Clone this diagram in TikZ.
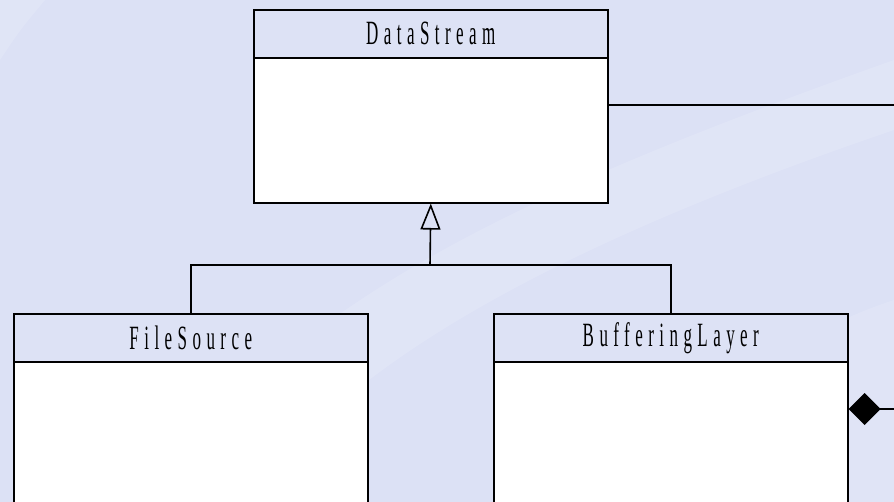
\documentclass[tikz,border=0pt]{standalone}
\usepackage{fontspec}
\usetikzlibrary{arrows.meta,calc}
\newfontfamily\umlfont[FakeStretch=0.5,LetterSpace=16]{Liberation Serif}
\definecolor{bgbase}{HTML}{DCE1F5}
\definecolor{bglight}{HTML}{E4E8F8}
\definecolor{hdrfill}{HTML}{DDE2F5}
\tikzset{
  umlline/.style={line width=1.6pt, draw=black},
  hdr/.style={draw=black, line width=1.6pt, fill=hdrfill, anchor=north west,
    minimum width=354pt, minimum height=48pt, inner sep=0pt,
    font=\fontsize{34}{36}\umlfont\selectfont},
  body/.style={draw=black, line width=1.6pt, fill=white, anchor=north west,
    minimum width=354pt, inner sep=0pt},
}
\begin{document}
\begin{tikzpicture}[x=1pt,y=-1pt]
\useasboundingbox (0,0) rectangle (894,502);
\clip (0,0) rectangle (894,502);
% background
\fill[bgbase] (0,0) rectangle (894,502);
\fill[bglight, opacity=0.6] (0,60) .. controls (20,30) .. (45,0) -- (0,0) -- cycle;
\fill[bglight, opacity=0.6] (140,502) .. controls (300,300) and (500,200) .. (894,60) -- (894,130) .. controls (600,230) and (350,350) .. (250,502) -- cycle;
\fill[bglight, opacity=0.5] (600,502) .. controls (700,400) and (800,330) .. (894,300) -- (894,502) -- cycle;
% DataStream
\node[hdr] (dsh) at (253,9) {\raisebox{-2pt}{DataStream}};
\node[body, minimum height=145pt] (dsb) at (253,57) {};
% FileSource
\node[hdr] (fsh) at (13,313) {\raisebox{-2pt}{FileSource}};
\node[body, minimum height=200pt] (fsb) at (13,361) {};
% BufferingLayer
\node[hdr] (blh) at (493,313) {\raisebox{-2pt}{BufferingLayer}};
\node[body, minimum height=200pt] (blb) at (493,361) {};
% inheritance
\coordinate (j) at (430,265);
\draw[umlline, -{Triangle[open,length=26pt,width=20pt,line width=1.6pt]}] (j) -- (dsb.south);
\draw[umlline] (fsh.north) |- (j) -| (blh.north);
% association from DataStream
\coordinate (dsend) at (894,105);
\draw[umlline] ([yshift=-48pt]dsb.north east) -- (dsend);
% composition from BufferingLayer
\coordinate (blend) at (894,409);
\draw[umlline, {Diamond[length=32pt,width=32pt]}-] ([yshift=-48pt]blb.north east) -- (blend);
\end{tikzpicture}
\end{document}
